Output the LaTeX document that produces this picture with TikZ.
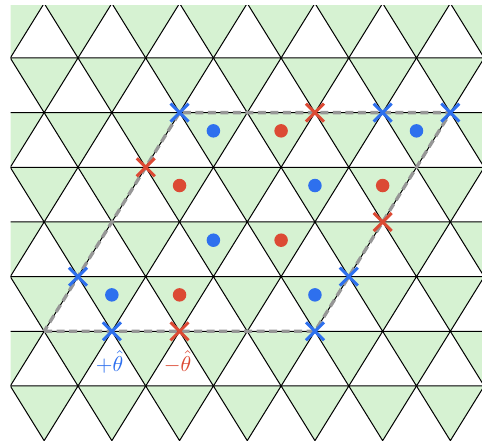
\documentclass[tikz,border=0pt]{standalone}
\usetikzlibrary{shapes.misc}
\definecolor{latgreen}{RGB}{214,242,210}
\definecolor{mkblue}{RGB}{46,112,238}
\definecolor{mkred}{RGB}{220,74,52}
\definecolor{pathgrey}{RGB}{150,150,150}
\tikzset{
  tri/.style={fill=latgreen,draw=black,line width=1pt,line join=miter},
  bnd/.style={draw=pathgrey,line width=3.3pt,dash pattern=on 8pt off 4.5pt},
  bcross/.style={cross out,draw=mkblue,line width=3pt,minimum size=15pt,inner sep=0pt},
  rcross/.style={cross out,draw=mkred,line width=3pt,minimum size=15pt,inner sep=0pt},
  bdot/.style={circle,fill=mkblue,minimum size=13.5pt,inner sep=0pt},
  rdot/.style={circle,fill=mkred,minimum size=13.5pt,inner sep=0pt},
  lab/.style={anchor=base,scale=2.15,inner sep=0pt}
}
\begin{document}
\begin{tikzpicture}[x=1pt,y=-1pt]
\useasboundingbox (0,0) rectangle (482,441);
% lattice
\begin{scope}
\clip (10.5,6) rectangle (482,441);
\foreach \j in {0,...,7}{
  \pgfmathsetmacro{\off}{mod(\j,2)==0 ? 44.15 : 10.3}
  \pgfmathsetmacro{\ya}{3.3+54.67*\j}
  \pgfmathsetmacro{\yb}{3.3+54.67*(\j+1)}
  \foreach \i in {-1,...,7}{
    \pgfmathsetmacro{\xa}{\off+67.7*\i}
    \path[tri] (\xa,\ya) -- (\xa+67.7,\ya) -- (\xa+33.85,\yb) -- cycle;
  }
}
\end{scope}
% corners of the dashed cell
\coordinate (c1) at (44.15,331.32);
\coordinate (c2) at (314.95,331.32);
\coordinate (c3) at (450.35,112.64);
\coordinate (c4) at (179.55,112.64);
\draw[bnd] (c1) -- (c2) -- (c3) -- (c4) -- cycle;
% dots
\node[bdot] (d1) at (213.4,130.86) {};
\node[rdot] (d2) at (281.1,130.86) {};
\node[bdot] (d3) at (416.5,130.86) {};
\node[rdot] (d4) at (179.55,185.53) {};
\node[bdot] (d5) at (314.95,185.53) {};
\node[rdot] (d6) at (382.65,185.53) {};
\node[bdot] (d7) at (213.4,240.2) {};
\node[rdot] (d8) at (281.1,240.2) {};
\node[bdot] (d9) at (111.85,294.87) {};
\node[rdot] (d10) at (179.55,294.87) {};
\node[bdot] (d11) at (314.95,294.87) {};
% crosses
\node[bcross] (x1) at (179.55,112.64) {};
\node[rcross] (x2) at (314.95,112.64) {};
\node[bcross] (x3) at (382.65,112.64) {};
\node[bcross] (x4) at (450.35,112.64) {};
\node[rcross] (x5) at (145.7,167.31) {};
\node[rcross] (x6) at (382.65,221.98) {};
\node[bcross] (x7) at (78,276.65) {};
\node[bcross] (x8) at (348.8,276.65) {};
\node[bcross] (x9) at (111.85,331.32) {};
\node[rcross] (x10) at (179.55,331.32) {};
\node[bcross] (x11) at (314.95,331.32) {};
% labels
\node[lab,text=mkblue] (lp) at (109.5,371) {$+\hat{\theta}$};
\node[lab,text=mkred] (lm) at (177.5,371) {$-\hat{\theta}$};
\end{tikzpicture}
\end{document}
